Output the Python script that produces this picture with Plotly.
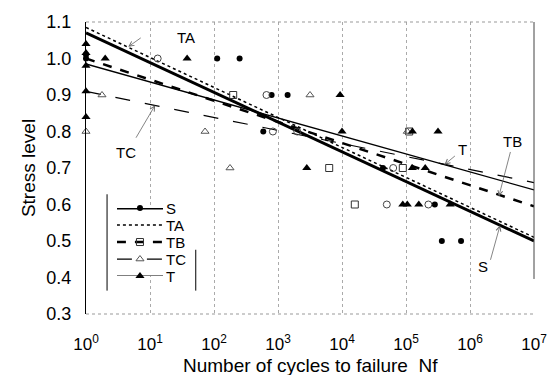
import plotly.graph_objects as go

# ---- data (exponents of N, stress level) ----
series = ["S", "TA", "TB", "TC", "T"]
fit_logN = [0, 7]
fit_S = [1.07, 0.50]
fit_TA = [1.085, 0.51]
fit_TB = [1.00, 0.595]
fit_TC = [0.91, 0.66]
fit_T = [0.985, 0.64]

S_logN = [0, 0, 2.05, 2.4, 2.9, 3.15, 2.77, 4.64, 5.45, 5.56, 5.86]
S_y = [1.0, 1.01, 1.0, 1.0, 0.9, 0.9, 0.8, 0.7, 0.6, 0.5, 0.5]
TA_logN = [1.12, 2.82, 2.92, 4.8, 4.7, 5.35, 3.3]
TA_y = [1.0, 0.9, 0.8, 0.7, 0.6, 0.6, 0.8]
TB_logN = [2.3, 3.8, 4.95, 4.2, 5.05]
TB_y = [0.9, 0.7, 0.7, 0.6, 0.8]
TC_logN = [0, 0.25, 1.86, 2.25, 3.5, 5.02]
TC_y = [0.8, 0.9, 0.8, 0.7, 0.9, 0.8]
T_logN = [0, 0, 0, 0, 0, 0.3, 1.58, 3.97, 3.45, 4.0, 5.1, 5.5, 5.1, 5.3, 4.95, 5.02, 5.2, 5.69]
T_y = [1.04, 1.015, 0.98, 0.91, 0.84, 1.0, 1.0, 0.9, 0.7, 0.8, 0.8, 0.8, 0.7, 0.7, 0.6, 0.6, 0.6, 0.6]

x_tickvals = [0, 1, 2, 3, 4, 5, 6, 7]
y_tickvals = [0.3, 0.4, 0.5, 0.6, 0.7, 0.8, 0.9, 1.0, 1.1]

def N(v):
    return [10 ** e for e in v]

fig = go.Figure()
BLK = "black"

lines = {
    "S": dict(y=fit_S, dash="solid", width=3),
    "TA": dict(y=fit_TA, dash="dot", width=1.5),
    "TB": dict(y=fit_TB, dash="dash", width=2.5),
    "TC": dict(y=fit_TC, dash="longdash", width=1.2),
    "T": dict(y=fit_T, dash="solid", width=1.3),
}
markers = {
    "S": dict(symbol="circle", size=6, color=BLK, line=dict(width=0)),
    "TA": dict(symbol="circle-open", size=7, color="#444", line=dict(width=1)),
    "TB": dict(symbol="square-open", size=7, color="#333", line=dict(width=1)),
    "TC": dict(symbol="triangle-up-open", size=7, color="#555", line=dict(width=1)),
    "T": dict(symbol="triangle-up", size=8, color=BLK, line=dict(width=0)),
}
pts = {
    "S": (S_logN, S_y), "TA": (TA_logN, TA_y), "TB": (TB_logN, TB_y),
    "TC": (TC_logN, TC_y), "T": (T_logN, T_y),
}

for name in ["TC", "T", "TB", "TA", "S"]:
    L = lines[name]
    fig.add_trace(go.Scatter(x=N(fit_logN), y=L["y"], mode="lines",
                             line=dict(color=BLK, dash=L["dash"], width=L["width"]),
                             showlegend=False, hoverinfo="skip"))
for name in series:
    xs, ys = pts[name]
    fig.add_trace(go.Scatter(x=N(xs), y=ys, mode="markers", marker=markers[name],
                             showlegend=False, cliponaxis=False))

# ---- legend drawn on its own small axes ----
for i, name in enumerate(series):
    L = lines[name]
    fig.add_trace(go.Scatter(x=[0, 1], y=[i, i], mode="lines", xaxis="x2", yaxis="y2",
                             line=dict(color=BLK, dash=L["dash"], width=L["width"]),
                             showlegend=False, hoverinfo="skip", cliponaxis=False))
    if name != "TA":
        fig.add_trace(go.Scatter(x=[0.5], y=[i], mode="markers", xaxis="x2", yaxis="y2",
                                 marker=markers[name], showlegend=False,
                                 hoverinfo="skip", cliponaxis=False))
    fig.add_annotation(x=1, y=i, xref="x2", yref="y2", text=name, showarrow=False,
                       xanchor="left", yanchor="middle", xshift=1,
                       font=dict(size=15, color=BLK))

labels = [
    ("TA", 1.56, 1.058),
    ("TC", 0.62, 0.742),
    ("T", 5.88, 0.752),
    ("TB", 6.66, 0.772),
    ("S", 6.2, 0.43),
]
for text, lx, ly in labels:
    fig.add_annotation(x=lx, y=ly, xref="x", yref="y", text=text, showarrow=False,
                       font=dict(size=15, color=BLK))

arrows = [
    (0.66, 1.032, 14, -10),
    (1.08, 0.872, -20, 34),
    (5.6, 0.709, 12, -10),
    (6.45, 0.622, 12, -46),
    (6.47, 0.543, -10, 36),
]
for tx, ty, ax, ay in arrows:
    fig.add_annotation(x=tx, y=ty, xref="x", yref="y", text="", showarrow=True,
                       ax=ax, ay=ay, arrowhead=5, arrowsize=1.2, arrowwidth=0.8,
                       arrowcolor="#666")

# x-axis title
fig.add_annotation(x=0.5, y=-0.175, xref="paper", yref="paper",
                   text="Number of cycles to failure  Nf", showarrow=False,
                   xanchor="center", yanchor="middle", font=dict(size=19, color=BLK))

fig.add_shape(type="line", xref="paper", yref="paper", x0=0, x1=1, y0=1, y1=1,
              line=dict(color="#999", width=1, dash="dot"))
fig.add_shape(type="line", xref="paper", yref="paper", x0=0, x1=1, y0=0, y1=0,
              line=dict(color="#999", width=1, dash="dot"))
fig.add_shape(type="line", xref="paper", yref="paper", x0=1, x1=1, y0=0.12, y1=1,
              line=dict(color="#444", width=1))
fig.add_shape(type="line", xref="paper", yref="paper", x0=0.047, x1=0.047, y0=0.08, y1=0.41,
              line=dict(color=BLK, width=1))
fig.add_shape(type="line", xref="paper", yref="paper", x0=0.245, x1=0.245, y0=0.08, y1=0.22,
              line=dict(color=BLK, width=1))

# page body has an 8px default margin: figure is 8px smaller and margins compensate
fig.update_layout(
    width=549, height=367,
    margin=dict(l=78, r=23, t=14, b=61),
    paper_bgcolor="white", plot_bgcolor="white",
    font=dict(family="Liberation Sans, Arial, sans-serif", size=15, color=BLK),
    showlegend=False,
    xaxis2=dict(domain=[0.069, 0.172], range=[0, 1], anchor="y2", visible=False,
                fixedrange=True),
    yaxis2=dict(domain=[0.130, 0.363], range=[4, 0], anchor="x2", visible=False,
                fixedrange=True),
)
fig.update_xaxes(selector=dict(type="log"))
fig.update_layout(xaxis=dict(type="log", range=[0, 7],
                 tickvals=N(x_tickvals),
                 ticktext=[f"10<sup>{e}</sup>" for e in x_tickvals],
                 showgrid=True, gridcolor="#aaa", griddash="dot", gridwidth=1,
                 showline=False, zeroline=False,
                 ticks="outside", ticklen=15, tickcolor="rgba(0,0,0,0)",
                 tickfont=dict(size=17), automargin=False),
                 yaxis=dict(range=[0.3, 1.1], tickvals=y_tickvals,
                 ticktext=[f"{v:.1f}" for v in y_tickvals],
                 showgrid=False, showline=True, linecolor=BLK, linewidth=1,
                 zeroline=False, ticks="outside", ticklen=10, tickcolor="rgba(0,0,0,0)",
                 title=dict(text="Stress level", standoff=5, font=dict(size=19)),
                 tickfont=dict(size=18), automargin=False))

fig.write_html("out.html")
